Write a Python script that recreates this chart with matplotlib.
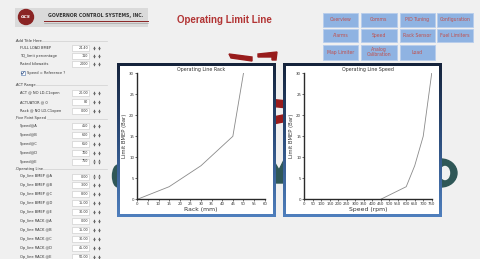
import numpy as np
import matplotlib
matplotlib.use("Agg")
import matplotlib.pyplot as plt
from matplotlib.patches import Rectangle, Ellipse, Polygon, Circle

# ---------------- data ----------------
speed_rpm = [450, 600, 650, 700, 750]
bmep_bar = [0.0, 3.0, 8.0, 15.0, 30.0]
rack_mm = [0.0, 15.0, 30.0, 45.0, 50.0]

rack_xticks = list(range(0, 61, 5))
speed_xticks = list(range(0, 751, 50))
bmep_yticks = list(range(0, 31, 5))

buttons_row1 = ["Overview", "Comms", "PID Tuning", "Configuration"]
buttons_row2 = ["Alarms", "Speed", "Rack Sensor", "Fuel Limiters"]
buttons_row3 = ["Map Limiter", "Analog\nCalibration", "Load"]

general_labels = ["FULL LOAD BMEP", "TQ_limit percentage", "Rated kilowatts"]
general_values = ["24.40", "110", "2000"]
act_labels = ["ACT @ NO LD-C1open", "ACTUATOR @ 0", "Rack @ NO LD-C1open"]
act_values = ["20.00", "80", "0.00"]
speed_labels = ["Speed@A", "Speed@B", "Speed@C", "Speed@D", "Speed@E"]
bmep_labels = ["Op_line BMEP @A", "Op_line BMEP @B", "Op_line BMEP @C",
               "Op_line BMEP @D", "Op_line BMEP @E"]
rackpt_labels = ["Op_line RACK @A", "Op_line RACK @B", "Op_line RACK @C",
                 "Op_line RACK @D", "Op_line RACK @E"]

# ---------------- figure ----------------
W, H = 480, 259
BG = "#f0f0f0"
fig = plt.figure(figsize=(4.8, 2.59), dpi=100)
fig.patch.set_facecolor(BG)
bg = fig.add_axes([0, 0, 1, 1])
bg.axis("off")

TEAL = "#2f5757"
RED = "#981c1c"

# background watermark pieces
bg.add_patch(Ellipse((118, 176), 11, 22, color=TEAL, zorder=1))
bg.add_patch(Ellipse((441, 173), 32, 28, color=TEAL, zorder=1))
bg.add_patch(Ellipse((445, 173), 9, 13, color=BG, zorder=1.1))
bg.add_patch(Polygon([(272, 158), (279, 170), (286, 156), (286, 183), (274, 183)],
                     closed=True, color=TEAL, zorder=1))
bg.add_patch(Polygon([(229, 54), (252, 57), (252, 61), (231, 58)], closed=True, color=RED, zorder=1))
bg.add_patch(Polygon([(258, 54), (277, 52), (276, 60), (272, 60), (272, 57), (258, 57)],
                     closed=True, color=RED, zorder=1))
bg.add_patch(Polygon([(268, 99), (288, 101), (288, 108), (268, 106)], closed=True, color=RED, zorder=1))
bg.add_patch(Polygon([(268, 118), (288, 114), (288, 121), (268, 125)], closed=True, color=RED, zorder=1))

# header / logo
bg.add_patch(Rectangle((15, 8), 133, 19, facecolor="#dadada", edgecolor="none", zorder=2))
bg.add_patch(Circle((26, 17), 7.5, color="#8a2424", zorder=3))
bg.text(26, 17.3, "GCS", color="white", fontsize=3.2, fontweight="bold",
        ha="center", va="center", zorder=4, style="italic")
bg.text(48, 15, "GOVERNOR CONTROL SYSTEMS, INC.", fontsize=3.3, fontweight="bold",
        color="#333333", ha="left", va="center", zorder=4)
bg.plot([44, 148], [21, 21], color="#8a2424", lw=0.7, zorder=4)
bg.plot([44, 148], [22.5, 22.5], color="#999999", lw=0.4, zorder=4)

bg.text(224, 20, "Operating Limit Line", fontsize=7, fontweight="bold",
        family="Liberation Sans", color="#b23434", ha="center", va="center", zorder=4)

# buttons
cols = [(322.7, 358.0), (360.7, 396.7), (399.7, 435.0), (437.0, 472.7)]
rows = [(12.7, 26.7), (29.0, 41.5), (45.0, 60.0)]
for r, labels in enumerate([buttons_row1, buttons_row2, buttons_row3]):
    y0, y1 = rows[r]
    for c, lab in enumerate(labels):
        x0, x1 = cols[c]
        bg.add_patch(Rectangle((x0, y0), x1 - x0, y1 - y0, facecolor="#8fb3e2",
                               edgecolor="#b7cdec", lw=0.6, zorder=2))
        bg.text((x0 + x1) / 2, (y0 + y1) / 2, lab, fontsize=3.3, color="#c0504d",
                ha="center", va="center", zorder=3, linespacing=1.0)

# left form
def header(y, text):
    bg.plot([15, 107], [y, y], color="#cfcfcf", lw=0.5, zorder=2)
    bg.text(16, y, text, fontsize=2.6, color="#333333", ha="left", va="center", zorder=3,
            bbox=dict(facecolor=BG, edgecolor="none", pad=0.3))

def row(y, label, value):
    bg.text(20, y, label, fontsize=2.6, color="#333333", ha="left", va="center", zorder=3)
    bg.add_patch(Rectangle((72, y - 3), 17, 6, facecolor="white", edgecolor="#c8c8c8",
                           lw=0.4, zorder=2))
    bg.text(88.3, y, value, fontsize=2.4, color="#333333", ha="right", va="center", zorder=3)
    for sx in (93.5, 98.5):
        bg.plot([sx], [y - 1.2], marker="^", ms=1.6, color="#555555", zorder=3, mew=0)
        bg.plot([sx], [y + 1.2], marker="v", ms=1.6, color="#555555", zorder=3, mew=0)

header(41, "Add Title Here")
for y, lab, val in zip([48, 56, 64], general_labels, general_values):
    row(y, lab, val)
bg.add_patch(Rectangle((20.5, 71), 4, 4, facecolor="white", edgecolor="#4a6fa5", lw=0.4, zorder=2))
bg.plot([21.3, 22.4, 24.2], [73, 74.2, 71.6], color="#2a4a80", lw=0.5, zorder=3)
bg.text(27, 73, "Speed = Reference ?", fontsize=2.6, color="#333333", ha="left",
        va="center", zorder=3)

header(85, "ACT Range")
for y, lab, val in zip([93, 102, 111], act_labels, act_values):
    row(y, lab, val)

header(118.5, "Five Point Speed")
for y, lab, val in zip([126, 135, 144, 153, 161.5], speed_labels, speed_rpm):
    row(y, lab, str(val))

header(169, "Operating Line")
ys = [176.5, 185, 194, 203, 212]
for y, lab, val in zip(ys, bmep_labels, bmep_bar):
    row(y, lab, f"{val:.2f}")
ys2 = [221, 230, 239, 248, 257]
for y, lab, val in zip(ys2, rackpt_labels, rack_mm):
    row(y, lab, f"{val:.2f}")

# chart panels with gradient border
grad = np.linspace(0, 1, 256).reshape(-1, 1)
from matplotlib.colors import LinearSegmentedColormap
cmap = LinearSegmentedColormap.from_list("bord", ["#15233b", "#2e4f7e", "#4f7fbd"])

def panel(x0, y0, x1, y1):
    bg.imshow(grad, cmap=cmap, extent=[x0, x1, y1, y0], aspect="auto", zorder=5)
    bg.add_patch(Rectangle((x0 + 2.8, y0 + 2.8), x1 - x0 - 5.6, y1 - y0 - 5.6,
                           facecolor="white", edgecolor="none", zorder=6))

panel(116.7, 63.3, 275.7, 216.7)
panel(283.3, 62.7, 441.7, 216.7)

bg.set_xlim(0, W)
bg.set_ylim(H, 0)

def px_axes(x0, y0, x1, y1):
    return fig.add_axes([x0 / W, 1 - y1 / H, (x1 - x0) / W, (y1 - y0) / H])

def style(ax, xs, ys_, xticks, xlabel, title):
    ax.set_facecolor("none")
    ax.plot(xs, ys_, color="#8a8a8a", lw=0.6)
    ax.set_xlim(xticks[0], xticks[-1])
    ax.set_ylim(0, 30)
    ax.set_xticks(xticks)
    ax.set_yticks(bmep_yticks)
    for s in ("top", "right"):
        ax.spines[s].set_visible(False)
    for s in ("left", "bottom"):
        ax.spines[s].set_linewidth(1.0)
        ax.spines[s].set_color("#2a2a2a")
    ax.tick_params(labelsize=2.8, length=1.5, width=0.5, pad=0.8, colors="#333333")
    ax.set_xlabel(xlabel, fontsize=4.4, labelpad=0.5, color="#333333")
    ax.set_ylabel("Limit BMEP (Bar)", fontsize=3.8, labelpad=1.5, color="#333333")
    ax.set_title(title, fontsize=3.4, pad=1.5, color="#333333")

ax1 = px_axes(137.3, 73.3, 264.7, 199.3)
style(ax1, rack_mm, bmep_bar, rack_xticks, "Rack (mm)", "Operating Line Rack")
ax2 = px_axes(304.3, 73.3, 431.7, 199.3)
style(ax2, speed_rpm, bmep_bar, speed_xticks, "Speed (rpm)", "Operating Line Speed")

fig.savefig("out.png", dpi=100, facecolor=BG)
